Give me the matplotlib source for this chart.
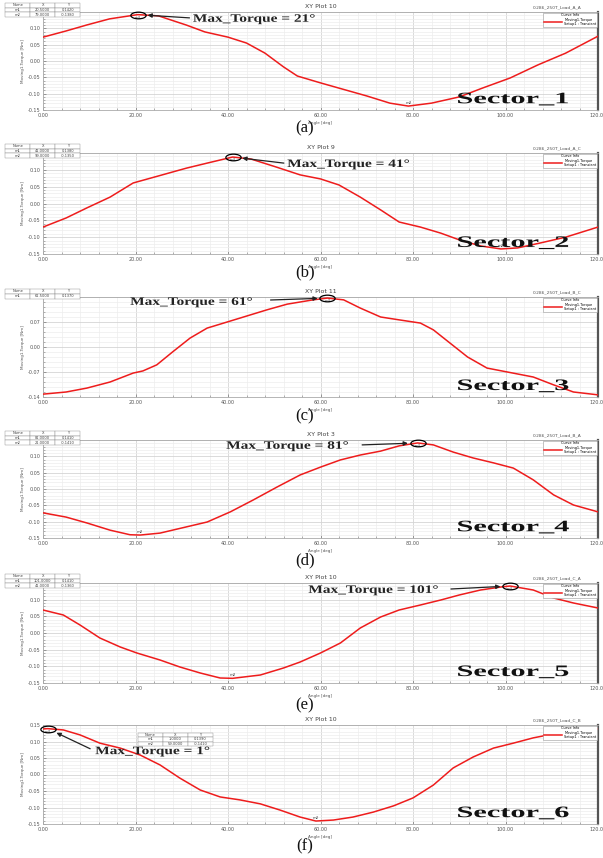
import numpy as np
import matplotlib
matplotlib.use("Agg")
import matplotlib.pyplot as plt
from matplotlib import patheffects as pe
from matplotlib.path import Path
from matplotlib.transforms import Affine2D
from matplotlib.ticker import MultipleLocator

# --- donnees (angle en deg, couple en N.m) ---
ang_a = [0, 5, 9.4, 14.4, 20.5, 25, 31, 35, 40, 44, 48, 52, 55, 60, 64, 70, 75, 79, 84, 90, 95, 101, 107, 113, 120]
trq_a = [0.073, 0.092, 0.110, 0.129, 0.142, 0.138, 0.110, 0.089, 0.073, 0.055, 0.024, -0.018, -0.046, -0.067,
         -0.083, -0.107, -0.129, -0.138, -0.129, -0.110, -0.083, -0.052, -0.012, 0.024, 0.076]

ang_b = [0, 5, 9.5, 14.5, 19.5, 25, 31, 35.5, 41, 45, 50.5, 55.6, 60, 64, 68.6, 73, 77, 81.6, 86, 90, 94.6,
         99, 102.6, 107.6, 113, 120]
trq_b = [-0.070, -0.043, -0.013, 0.019, 0.061, 0.082, 0.105, 0.120, 0.138, 0.132, 0.108, 0.085, 0.073, 0.055,
         0.019, -0.019, -0.055, -0.070, -0.088, -0.108, -0.126, -0.135, -0.132, -0.117, -0.100, -0.070]

ang_c = [0, 5, 9.5, 14.5, 19.5, 21.6, 24.6, 28, 31.8, 35.5, 38.3, 42.6, 48.4, 52.8, 55.6, 58.4, 61.5, 65,
         68.6, 73, 77, 81.6, 84.4, 88, 91.8, 96, 100.4, 106, 110.4, 114.7, 120]
trq_c = [-0.132, -0.126, -0.115, -0.098, -0.073, -0.067, -0.050, -0.014, 0.025, 0.053, 0.064, 0.081, 0.104,
         0.120, 0.126, 0.132, 0.137, 0.132, 0.109, 0.084, 0.076, 0.067, 0.048, 0.011, -0.028, -0.059, -0.070,
         -0.084, -0.106, -0.126, -0.134]

ang_d = [0, 5, 9.5, 14.5, 18.8, 21, 25.3, 31, 35.5, 40.5, 45.4, 50.6, 55.6, 60, 64.3, 68.6, 73, 77, 81,
         84.4, 88.7, 93, 97.4, 101.7, 106, 110.4, 114.7, 120]
trq_d = [-0.073, -0.086, -0.104, -0.126, -0.140, -0.141, -0.135, -0.116, -0.101, -0.070, -0.034, 0.006, 0.043,
         0.067, 0.089, 0.104, 0.116, 0.132, 0.141, 0.135, 0.113, 0.095, 0.080, 0.064, 0.028, -0.018, -0.049,
         -0.070]

ang_e = [0, 4.4, 8, 12.3, 16.7, 20.3, 25.3, 29.6, 34, 38.3, 41, 47, 52, 55.6, 60, 64.3, 68.6, 73, 77, 81.6,
         86, 90, 94.6, 99, 101, 106, 110.4, 114.7, 120]
trq_e = [0.069, 0.054, 0.024, -0.015, -0.042, -0.060, -0.081, -0.102, -0.120, -0.135, -0.136, -0.126, -0.105,
         -0.087, -0.060, -0.030, 0.015, 0.048, 0.069, 0.084, 0.099, 0.114, 0.129, 0.138, 0.141, 0.129, 0.105,
         0.090, 0.075]

ang_f = [0, 1, 4.4, 8, 12.3, 16.7, 21, 25.3, 29.6, 34, 38.3, 42.6, 47, 51.3, 55.6, 59, 62.8, 67, 71.4, 75.8,
         80, 84.4, 88.7, 93, 97.4, 101.7, 106, 110.4, 113.4, 120]
trq_f = [0.138, 0.139, 0.135, 0.120, 0.095, 0.080, 0.059, 0.029, -0.011, -0.047, -0.068, -0.077, -0.089, -0.108,
         -0.129, -0.141, -0.138, -0.129, -0.114, -0.095, -0.071, -0.032, 0.020, 0.053, 0.080, 0.095, 0.111,
         0.123, 0.129, 0.1385]

titres = ["XY Plot 10", "XY Plot 9", "XY Plot 11", "XY Plot 3", "XY Plot 10", "XY Plot 10"]
noms = ["0.286_250T_Load_A_A", "0.286_250T_Load_A_C", "0.286_250T_Load_B_C",
        "0.286_250T_Load_B_A", "0.286_250T_Load_C_A", "0.286_250T_Load_C_B"]
max_deg = [21, 41, 61, 81, 101, 1]
secteurs = ["Sector_1", "Sector_2", "Sector_3", "Sector_4", "Sector_5", "Sector_6"]
legendes = ["(a)", "(b)", "(c)", "(d)", "(e)", "(f)"]
x_ticks = [0, 20, 40, 60, 80, 100, 120]

W, H = 603, 858
fig = plt.figure(figsize=(W / 100, H / 100), dpi=100)
fig.patch.set_facecolor("white")


# etire le texte horizontalement (comme dans la capture)
class EtireX(pe.AbstractPathEffect):
    def __init__(self, sx):
        super().__init__()
        self.sx = sx

    def draw_path(self, renderer, gc, tpath, affine, rgbFace=None):
        x0, y0 = affine.transform((0, 0))
        aff = affine + Affine2D().translate(-x0, -y0).scale(self.sx, 1).translate(x0, y0)
        renderer.draw_path(gc, tpath, aff, rgbFace)


ell = Path.unit_circle().transformed(Affine2D().scale(2.3, 1))

# boites des axes en pixels : gauche, haut, droite, bas
boites = [(43, 12, 598, 110), (43, 153, 598, 254), (43, 297, 598, 397),
          (43, 440, 598, 538), (43, 583, 598, 683), (43, 725, 598, 824)]
captions_y = [128, 272, 416, 560, 705, 846]
# position du texte Max_Torque (fraction des axes, bord gauche) et depart de la fleche
txt_pos = [(0.27, 0.93), (0.44, 0.89), (0.157, 0.95), (0.33, 0.94), (0.478, 0.93), (0.094, 0.735)]
fleche_dep = [(0.264, 0.94), (0.434, 0.90), (0.41, 0.97), (0.575, 0.95), (0.735, 0.94), (0.085, 0.76)]
tab_box = [[-0.068, 0.95, 0.135, 0.14], [-0.068, 0.95, 0.135, 0.14], [-0.068, 0.98, 0.135, 0.1],
           [-0.068, 0.95, 0.135, 0.14], [-0.068, 0.95, 0.135, 0.14], [0.171, 0.79, 0.135, 0.13]]
ylims = [0.15, 0.15, 0.14, 0.15, 0.15, 0.15]

series = [(ang_a, trq_a), (ang_b, trq_b), (ang_c, trq_c), (ang_d, trq_d), (ang_e, trq_e), (ang_f, trq_f)]

for i, (ang, trq) in enumerate(series):
    l, t, r, b = boites[i]
    ax = fig.add_axes([l / W, 1 - b / H, (r - l) / W, (b - t) / H])
    ang = np.array(ang)
    trq = np.array(trq)
    ln, = ax.plot(ang, trq, color="#ee1c1c", lw=1.1, zorder=3)

    ax.set_xlim(0, 120)
    lim = ylims[i]
    ax.set_ylim(-lim, lim)
    if i == 2:
        ax.yaxis.set_major_locator(MultipleLocator(0.07))
        ax.yaxis.set_minor_locator(MultipleLocator(0.014))
    else:
        ax.yaxis.set_major_locator(MultipleLocator(0.05))
        ax.yaxis.set_minor_locator(MultipleLocator(0.01))
    ax.set_xticks(x_ticks)
    ax.set_xticklabels([f"{v:.2f}" for v in x_ticks])
    ax.xaxis.set_minor_locator(MultipleLocator(4))
    ax.yaxis.set_major_formatter(matplotlib.ticker.FormatStrFormatter("%.2f"))
    ax.grid(True, which="major", color="#d4d4d4", lw=0.6)
    ax.grid(True, which="minor", color="#ededed", lw=0.5)
    ax.tick_params(which="both", direction="in", labelsize=3.5, labelcolor="#555555", color="#777777", pad=2)
    ax.tick_params(which="major", length=2.5, width=0.5)
    ax.tick_params(which="minor", length=1.5, width=0.4)
    for s in ["left", "top", "bottom"]:
        ax.spines[s].set_color("#aaaaaa")
        ax.spines[s].set_linewidth(0.6)
    ax.spines["right"].set_color("#555555")
    ax.spines["right"].set_linewidth(1.6)
    ax.set_xlabel("Angle [deg]", fontsize=3, color="#555555", labelpad=2)
    ax.set_ylabel("Moving1.Torque [Nm]", fontsize=3, color="#555555", labelpad=2)
    ax.set_title(titres[i], fontsize=4.5, color="#444444", pad=3)
    ax.text(0.97, 1.03, noms[i], transform=ax.transAxes, ha="right", va="bottom", fontsize=3.2, color="#555555")

    leg = ax.legend([ln], ["Moving1.Torque\nSetup1 : Transient"], title="Curve Info", loc="upper right",
                    fontsize=2.5, title_fontsize=2.5, frameon=True, fancybox=False, borderaxespad=0.15,
                    handlelength=5, borderpad=0.25, labelspacing=0.1, framealpha=1)
    leg.get_frame().set_edgecolor("#999999")
    leg.get_frame().set_linewidth(0.4)

    # marqueurs m1 / m2
    imax = int(np.argmax(trq))
    imin = int(np.argmin(trq))
    ax.text(ang[imax], trq[imax] - 0.004, "m1", fontsize=2.8, ha="center", va="top", color="#444444", zorder=4)
    rows = [["Name", "X", "Y"], ["m1", f"{ang[imax]:.4f}", f"{trq[imax]:.4f}"]]
    if i != 2:
        ax.text(ang[imin], trq[imin] + 0.004, "m2", fontsize=2.8, ha="center", va="bottom", color="#444444",
                zorder=4)
        rows.append(["m2", f"{ang[imin]:.4f}", f"{trq[imin]:.4f}"])
    tab = ax.table(cellText=rows, bbox=tab_box[i], cellLoc="center", zorder=6)
    tab.auto_set_font_size(False)
    tab.set_fontsize(2.6)
    for cell in tab.get_celld().values():
        cell.set_linewidth(0.3)
        cell.set_edgecolor("#888888")
        cell.set_facecolor("white")
        cell.get_text().set_color("#444444")
    tab.set_clip_on(False)

    # ellipse + fleche + texte Max_Torque
    ax.plot(ang[imax], trq[imax], marker=ell, markersize=11, mfc="none", mec="black", mew=0.9, zorder=5,
            clip_on=False)
    tx, ty = txt_pos[i]
    etiquette = f"Max_Torque = {max_deg[i]}\u00b0"
    txt = ax.text(tx, ty, etiquette, transform=ax.transAxes, ha="left", va="center", fontsize=8.2,
                  family="Liberation Serif", weight="bold", color="#222222", zorder=7)
    txt.set_path_effects([EtireX(1.35)])
    ax.annotate("", xy=(ang[imax], trq[imax]), xytext=fleche_dep[i], textcoords="axes fraction",
                arrowprops=dict(arrowstyle="-|>", color="#222222", lw=0.9, shrinkA=0, shrinkB=7,
                                mutation_scale=6), zorder=7)

    sec = ax.text(0.745, 0.11, secteurs[i], transform=ax.transAxes, ha="left", va="center", fontsize=11.5,
                  family="Liberation Serif", weight="bold", color="#111111", zorder=7)
    sec.set_path_effects([EtireX(1.9)])

    fig.text(305 / W, 1 - captions_y[i] / H, legendes[i], ha="center", va="center", fontsize=12,
             family="Liberation Serif", color="#111111")

fig.savefig("out.png", dpi=100, facecolor="white")
